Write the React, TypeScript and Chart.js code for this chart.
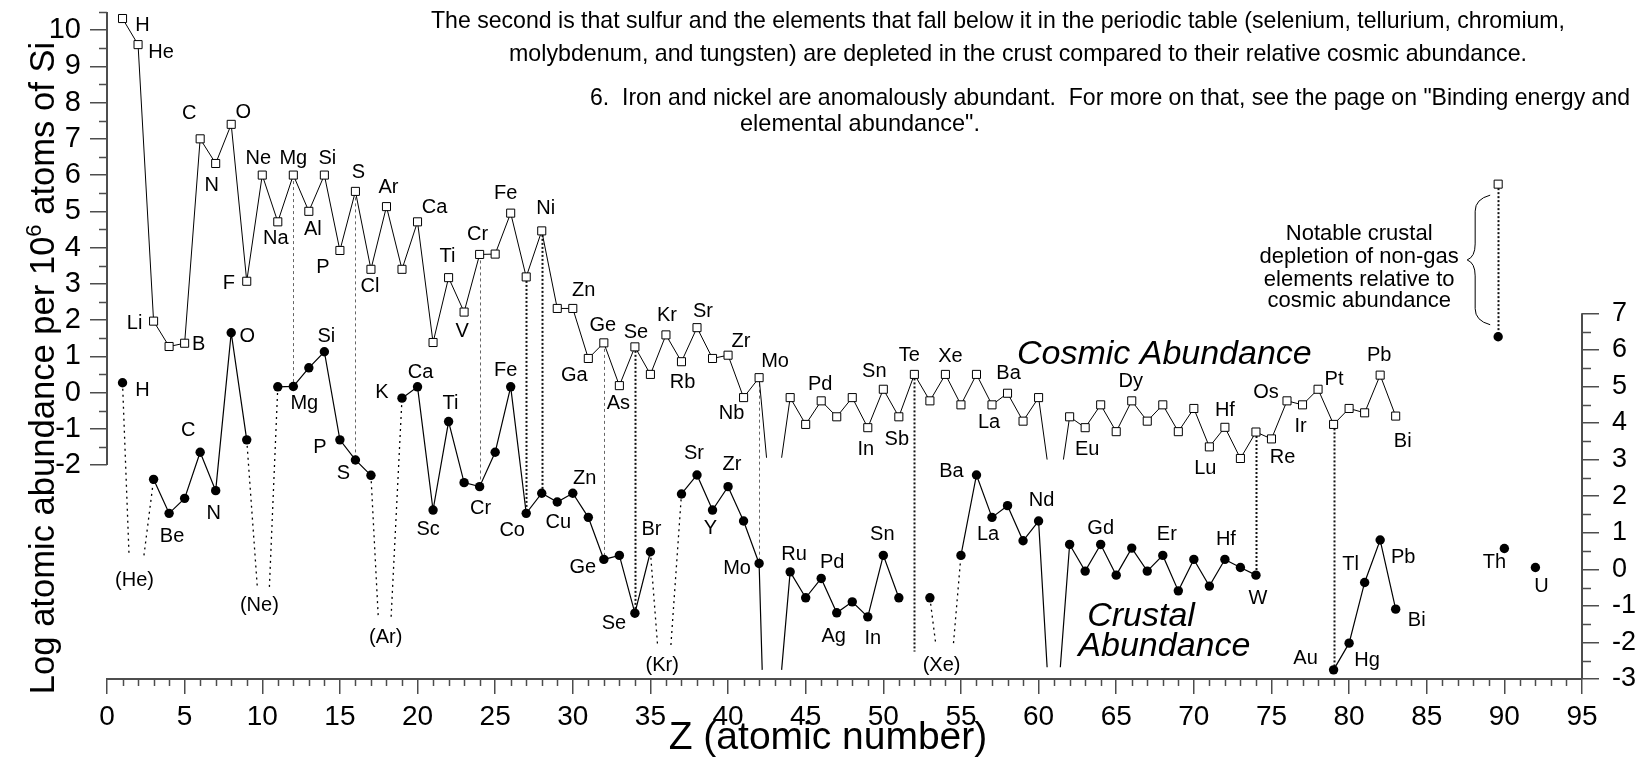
import React, { useEffect, useRef } from 'react';
import { Chart, registerables } from 'chart.js';

Chart.register(...registerables);

const FONT = '"Liberation Sans", Arial, Helvetica, sans-serif';
const AXIS = '#4d4d4d';

// ---------- data (log atomic abundance per 10^6 atoms of Si) ----------
// cosmic abundance, Z = 1..83 (null = not plotted)
const cosmic: (number | null)[] = [
  10.32, 9.6, 1.97, 1.27, 1.36, 7.0, 6.32, 7.4, 3.07, 6.0,
  4.71, 6.0, 5.0, 6.0, 3.92, 5.55, 3.4, 5.13, 3.4, 4.71,
  1.38, 3.17, 2.22, 3.81, 3.82, 4.95, 3.19, 4.46, 2.32, 2.32,
  0.94, 1.37, 0.19, 1.26, 0.5, 1.59, 0.85, 1.79, 0.94, 1.03,
  -0.14, 0.41, null, -0.14, -0.88, -0.23, -0.67, -0.14, -0.97, 0.09,
  -0.67, 0.5, -0.23, 0.5, -0.34, 0.5, -0.34, -0.02, -0.79, -0.14,
  null, -0.67, -0.97, -0.34, -1.08, -0.23, -0.79, -0.34, -1.08, -0.44,
  -1.5, -0.96, -1.82, -1.09, -1.28, -0.23, -0.34, 0.09, -0.88, -0.44,
  -0.56, 0.48, -0.65,
];

// crustal abundance, Z = 1..92 (null = not plotted)
const crust: (number | null)[] = [
  5.1, null, 2.46, 1.53, 1.94, 3.2, 2.15, 6.47, 3.54, null,
  4.99, 5.0, 5.51, 5.95, 3.54, 2.99, 2.57, null, 4.68, 4.99,
  1.62, 4.04, 2.37, 2.26, 3.2, 4.99, 1.53, 2.08, 1.84, 2.08,
  1.42, 0.27, 0.38, -1.2, 0.48, null, 2.06, 2.58, 1.62, 2.26,
  1.32, 0.16, null, -0.07, -0.78, -0.25, -1.19, -0.89, -1.3, 0.38,
  -0.78, null, -0.78, null, 0.38, 2.58, 1.42, 1.74, 0.78, 1.32,
  null, 0.68, -0.05, 0.68, -0.16, 0.58, -0.05, 0.38, -0.59, 0.27,
  -0.46, 0.27, 0.05, -0.16, null, null, null, null, -2.75, -2.02,
  -0.36, 0.8, -1.09, null, null, null, null, null, null, 0.57,
  null, 0.05,
];

// unstable Tc (43) and Pm (61): lines run down to a floor
const unstableZ = [43, 61];
const cosmicStubLeftZ = [42.48, 60.55];
const cosmicStubRightZ = [43.45, 61.6];
const cosmicStubFloor = [-1.8, -1.85];
const crustStubLeftZ = [42.2, 60.55];
const crustStubRightZ = [43.45, 61.4];
const crustStubFloor = [-2.75, -2.68];

// noble gases missing from the crust: dotted connectors
const gasZ = [2, 10, 18, 36, 54];
const gasText = ['(He)', '(Ne)', '(Ar)', '(Kr)', '(Xe)'];
const gasLeftZ = [1.42, 9.68, 17.47, 35.46, 53.37];
const gasRightZ = [2.38, 10.46, 18.3, 36.32, 54.52];
const gasFloor = [0.38, -0.48, -1.3, -2.07, -2.02];

// vertical cosmic -> crust depletion links
const linkZ = [12, 16, 24, 27, 28, 32, 34, 42, 52, 74, 79];
const linkCrustEnd = [5.0, 2.99, 2.26, 1.53, 2.08, 0.27, -1.2, 0.16, -2.25, -0.16, -2.75];
const linkHeavy = [false, false, false, true, true, false, true, false, true, true, true];

// legend-like annotation
const annotZ = 89.6;
const annotCosmic = 5.75;
const annotCrust = 6.36;
const annotText = ['Notable crustal', 'depletion of non-gas', 'elements relative to', 'cosmic abundance'];

// element labels
const cosmicLabelZ = [1, 2, 3, 5, 6, 7, 8, 9, 10, 11, 12, 13, 14, 15, 16, 17, 18, 20, 22, 23, 24, 26, 28, 30, 31, 32, 33, 34, 36, 37, 38, 40, 41, 42, 46, 49, 50, 51, 52, 54, 57, 58, 63, 66, 71, 72, 75, 76, 77, 78, 82, 83];
const cosmicLabelText = ['H', 'He', 'Li', 'B', 'C', 'N', 'O', 'F', 'Ne', 'Na', 'Mg', 'Al', 'Si', 'P', 'S', 'Cl', 'Ar', 'Ca', 'Ti', 'V', 'Cr', 'Fe', 'Ni', 'Zn', 'Ga', 'Ge', 'As', 'Se', 'Kr', 'Rb', 'Sr', 'Zr', 'Nb', 'Mo', 'Pd', 'In', 'Sn', 'Sb', 'Te', 'Xe', 'La', 'Ba', 'Eu', 'Dy', 'Lu', 'Hf', 'Re', 'Os', 'Ir', 'Pt', 'Pb', 'Bi'];
const crustLabelZ = [1, 4, 6, 7, 8, 12, 14, 15, 16, 19, 20, 21, 22, 24, 26, 27, 29, 30, 32, 34, 35, 38, 39, 40, 42, 44, 46, 47, 49, 50, 56, 57, 60, 64, 68, 72, 74, 79, 80, 81, 82, 83, 90, 92];
const crustLabelText = ['H', 'Be', 'C', 'N', 'O', 'Mg', 'Si', 'P', 'S', 'K', 'Ca', 'Sc', 'Ti', 'Cr', 'Fe', 'Co', 'Cu', 'Zn', 'Ge', 'Se', 'Br', 'Sr', 'Y', 'Zr', 'Mo', 'Ru', 'Pd', 'Ag', 'In', 'Sn', 'Ba', 'La', 'Nd', 'Gd', 'Er', 'Hf', 'W', 'Au', 'Hg', 'Tl', 'Pb', 'Bi', 'Th', 'U'];

// tick labels
const xTickValues = [0, 5, 10, 15, 20, 25, 30, 35, 40, 45, 50, 55, 60, 65, 70, 75, 80, 85, 90, 95];
const leftTickValues = [-2, -1, 0, 1, 2, 3, 4, 5, 6, 7, 8, 9, 10];
const rightTickValues = [-3, -2, -1, 0, 1, 2, 3, 4, 5, 6, 7];

const topText = [
  'The second is that sulfur and the elements that fall below it in the periodic table (selenium, tellurium, chromium,',
  'molybdenum, and tungsten) are depleted in the crust compared to their relative cosmic abundance.',
  '6.  Iron and nickel are anomalously abundant.  For more on that, see the page on "Binding energy and',
  'elemental abundance".',
];

// ---------- layout (pixel nudges, not data) ----------
const cosmicLabelNudge: [number, number][] = [
  [20, 7], [23, 8], [-19, 2], [14, 1], [-11, -25], [-4, 22], [12, -12], [-18, 2], [-4, -17], [-2, 17],
  [0, -17], [4, 18], [3, -17], [-17, 17], [3, -19], [-1, 17], [2, -19], [17, -14], [-1, -21], [-2, 19],
  [-2, -20], [-5, -20], [4, -22], [11, -18], [-14, 17], [-1, -17], [-1, 18], [1, -14], [1, -19], [1, 21],
  [6, -16], [13, -14], [-12, 16], [16, -16], [-1, -16], [-2, 22], [-9, -18], [-2, 23], [-5, -19], [5, -18],
  [-3, 18], [1, -20], [2, 22], [-1, -19], [-4, 22], [0, -17], [11, 19], [-21, -8], [-2, 22], [16, -10],
  [-1, -20], [7, 25],
];
const crustLabelNudge: [number, number][] = [
  [20, 8], [3, 23], [-12, -22], [-2, 23], [16, 4], [11, 17], [2, -15], [-20, 8], [-12, 14], [-20, -6],
  [3, -14], [-5, 19], [2, -18], [1, 22], [-5, -16], [-14, 17], [1, 20], [12, -15], [-21, 8], [-21, 10],
  [1, -22], [-3, -21], [-2, 18], [4, -22], [-22, 5], [4, -17], [11, -16], [-3, 24], [5, 22], [-1, -21],
  [-25, -3], [-4, 17], [3, -21], [0, -16], [4, -21], [1, -20], [2, 23], [-28, -11], [18, 17], [-14, -18],
  [23, 17], [21, 11], [-10, 14], [6, 19],
];
const gasLabelNudge: [number, number][] = [[-2, 25], [-4, 19], [1, 21], [-2, 20], [-3, 22]];

// ---------- build datasets ----------
const cosmicPoints = cosmic.map((v, i) => ({ x: i + 1, y: v }));
const crustPoints = crust.map((v, i) => ({ x: i + 1, y: v }));

function stubPoints(series: (number | null)[], leftZ: number[], rightZ: number[], floor: number[]) {
  const pts: { x: number; y: number | null }[] = [];
  unstableZ.forEach((z, i) => {
    pts.push({ x: z - 1, y: series[z - 2] });
    pts.push({ x: leftZ[i], y: floor[i] });
    pts.push({ x: z, y: null });
    pts.push({ x: rightZ[i], y: floor[i] });
    pts.push({ x: z + 1, y: series[z] });
    pts.push({ x: z + 1, y: null });
  });
  return pts;
}

const gasPoints: { x: number; y: number | null }[] = [];
gasZ.forEach((z, i) => {
  gasPoints.push({ x: z - 1, y: crust[z - 2] });
  gasPoints.push({ x: gasLeftZ[i], y: gasFloor[i] });
  gasPoints.push({ x: z, y: null });
  gasPoints.push({ x: gasRightZ[i], y: gasFloor[i] });
  gasPoints.push({ x: z + 1, y: crust[z] });
  gasPoints.push({ x: z + 1, y: null });
});

const overlay = {
  id: 'overlay',
  beforeDatasetsDraw(chart: any) {
    const { ctx, scales } = chart;
    const x = scales.x, yL = scales.yL, yR = scales.yR;
    ctx.save();
    linkZ.forEach((z, i) => {
      const heavy = linkHeavy[i];
      const px = Math.round(x.getPixelForValue(z)) + 0.5;
      ctx.beginPath();
      ctx.setLineDash(heavy ? [2, 2] : [3, 3]);
      ctx.lineWidth = heavy ? 2 : 1;
      ctx.strokeStyle = heavy ? '#111' : '#666';
      ctx.moveTo(px, yL.getPixelForValue(cosmic[z - 1] as number));
      ctx.lineTo(px, yR.getPixelForValue(linkCrustEnd[i]));
      ctx.stroke();
    });
    const ax = Math.round(x.getPixelForValue(annotZ)) + 0.5;
    ctx.beginPath();
    ctx.setLineDash([2, 2]);
    ctx.lineWidth = 2;
    ctx.strokeStyle = '#111';
    ctx.moveTo(ax, yL.getPixelForValue(annotCosmic));
    ctx.lineTo(ax, yR.getPixelForValue(annotCrust));
    ctx.stroke();
    ctx.restore();
  },
  afterDatasetsDraw(chart: any) {
    const { ctx, scales } = chart;
    const x = scales.x, yL = scales.yL, yR = scales.yR;
    ctx.save();
    ctx.fillStyle = '#000';
    ctx.textAlign = 'center';
    ctx.textBaseline = 'middle';
    ctx.font = `20px ${FONT}`;
    cosmicLabelZ.forEach((z, i) => {
      const [dx, dy] = cosmicLabelNudge[i];
      ctx.fillText(cosmicLabelText[i], x.getPixelForValue(z) + dx, yL.getPixelForValue(cosmic[z - 1] as number) + dy);
    });
    crustLabelZ.forEach((z, i) => {
      const [dx, dy] = crustLabelNudge[i];
      ctx.fillText(crustLabelText[i], x.getPixelForValue(z) + dx, yR.getPixelForValue(crust[z - 1] as number) + dy);
    });
    gasZ.forEach((z, i) => {
      const [dx, dy] = gasLabelNudge[i];
      const cx = (x.getPixelForValue(gasLeftZ[i]) + x.getPixelForValue(gasRightZ[i])) / 2;
      ctx.fillText(gasText[i], cx + dx, yR.getPixelForValue(gasFloor[i]) + dy);
    });

    // series titles
    ctx.font = `italic 34px ${FONT}`;
    ctx.textBaseline = 'alphabetic';
    ctx.fillText('Cosmic Abundance', x.getPixelForValue(68.1), yL.getPixelForValue(0.8));
    ctx.fillText('Crustal', x.getPixelForValue(66.6), yR.getPixelForValue(-1.54));
    ctx.fillText('Abundance', x.getPixelForValue(68.1), yR.getPixelForValue(-2.37));

    // annotation brace + text
    const ax = x.getPixelForValue(annotZ);
    const yTop = yL.getPixelForValue(annotCosmic) + 11;
    const yBot = yR.getPixelForValue(annotCrust) - 12;
    const yMid = (yTop + yBot) / 2;
    const xe = ax - 8;
    const xm = ax - 23;
    const xc = ax - 31;
    const r = 16;
    ctx.beginPath();
    ctx.setLineDash([]);
    ctx.lineWidth = 1;
    ctx.strokeStyle = '#000';
    ctx.moveTo(xe, yTop);
    ctx.quadraticCurveTo(xm, yTop + 4, xm, yTop + r);
    ctx.lineTo(xm, yMid - r);
    ctx.quadraticCurveTo(xm, yMid - 3, xc, yMid);
    ctx.quadraticCurveTo(xm, yMid + 3, xm, yMid + r);
    ctx.lineTo(xm, yBot - r);
    ctx.quadraticCurveTo(xm, yBot - 4, xe, yBot);
    ctx.stroke();
    ctx.font = `22px ${FONT}`;
    ctx.textAlign = 'center';
    const base = [-20, 3, 26, 47];
    annotText.forEach((t, i) => ctx.fillText(t, ax - 139, yMid + base[i]));
    ctx.restore();
  },
  afterDraw(chart: any) {
    const { ctx, scales, chartArea } = chart;
    const x = scales.x, yL = scales.yL, yR = scales.yR;
    ctx.save();
    ctx.strokeStyle = AXIS;
    // partial vertical axes
    const lx = Math.round(chartArea.left);
    const rx = Math.round(chartArea.right);
    ctx.beginPath();
    ctx.lineWidth = 2;
    ctx.moveTo(lx, yL.getPixelForValue(-2));
    ctx.lineTo(lx, yL.getPixelForValue(10.5));
    ctx.moveTo(rx, yR.getPixelForValue(-3));
    ctx.lineTo(rx, yR.getPixelForValue(7));
    ctx.stroke();
    // minor ticks
    ctx.lineWidth = 1.5;
    ctx.beginPath();
    for (let z = 1; z < 95; z++) {
      if (z % 5 === 0) continue;
      const px = Math.round(x.getPixelForValue(z)) + 0.5;
      ctx.moveTo(px, chartArea.bottom);
      ctx.lineTo(px, chartArea.bottom + 7);
    }
    for (let v = -1.5; v <= 10.5; v += 1) {
      const py = Math.round(yL.getPixelForValue(v)) + 0.5;
      ctx.moveTo(lx, py);
      ctx.lineTo(lx - 8, py);
    }
    for (let v = -2.5; v <= 6.5; v += 1) {
      const py = Math.round(yR.getPixelForValue(v)) + 0.5;
      ctx.moveTo(rx, py);
      ctx.lineTo(rx + 9, py);
    }
    ctx.stroke();

    ctx.fillStyle = '#000';
    // x axis title
    ctx.font = `39px ${FONT}`;
    ctx.textAlign = 'center';
    ctx.textBaseline = 'middle';
    ctx.fillText('Z (atomic number)', 828, 738);

    // y axis title with superscript
    ctx.translate(42, 368);
    ctx.rotate(-Math.PI / 2);
    const big = `34.6px ${FONT}`;
    const small = `22px ${FONT}`;
    const p1 = 'Log atomic abundance per 10';
    const p2 = '6';
    const p3 = ' atoms of Si';
    ctx.font = big;
    const w1 = ctx.measureText(p1).width;
    const w3 = ctx.measureText(p3).width;
    ctx.font = small;
    const w2 = ctx.measureText(p2).width;
    const total = w1 + w2 + w3;
    ctx.textBaseline = 'alphabetic';
    ctx.textAlign = 'left';
    let cx = -total / 2;
    ctx.font = big;
    ctx.fillText(p1, cx, 12);
    cx += w1;
    ctx.font = small;
    ctx.fillText(p2, cx, -1);
    cx += w2;
    ctx.font = big;
    ctx.fillText(p3, cx, 12);
    ctx.setTransform(1, 0, 0, 1, 0, 0);

    // explanatory text at top
    ctx.font = `24px ${FONT}`;
    ctx.textAlign = 'left';
    ctx.textBaseline = 'alphabetic';
    const tx = [431, 509, 590, 740];
    const ty = [28, 61, 105, 131];
    const tw = [1134, 1018, 1040, 240];
    topText.forEach((t, i) => ctx.fillText(t, tx[i], ty[i], tw[i]));
    ctx.restore();
  },
};

const App = () => {
  const ref = useRef<HTMLCanvasElement>(null);
  useEffect(() => {
    const prev = document.body.style.margin;
    document.body.style.margin = '0';
    const canvas = ref.current as HTMLCanvasElement;
    const chart = new Chart(canvas, {
      type: 'line',
      data: {
        datasets: [
          {
            data: cosmicPoints as any, yAxisID: 'yL', borderColor: '#000', borderWidth: 1,
            pointStyle: 'rect', pointRadius: 5.7, pointBackgroundColor: '#fff', pointBorderColor: '#000',
            pointBorderWidth: 1, spanGaps: false, tension: 0,
          },
          {
            data: crustPoints as any, yAxisID: 'yR', borderColor: '#000', borderWidth: 1.2,
            pointStyle: 'circle', pointRadius: 4.7, pointBackgroundColor: '#000', pointBorderColor: '#000',
            pointBorderWidth: 0, spanGaps: false, tension: 0,
          },
          {
            data: [{ x: annotZ, y: annotCosmic }] as any, yAxisID: 'yL', showLine: false,
            pointStyle: 'rect', pointRadius: 5.7, pointBackgroundColor: '#fff', pointBorderColor: '#000', pointBorderWidth: 1,
          },
          {
            data: [{ x: annotZ, y: annotCrust }] as any, yAxisID: 'yR', showLine: false,
            pointStyle: 'circle', pointRadius: 4.7, pointBackgroundColor: '#000', pointBorderWidth: 0,
          },
          {
            data: stubPoints(cosmic, cosmicStubLeftZ, cosmicStubRightZ, cosmicStubFloor) as any, yAxisID: 'yL',
            borderColor: '#000', borderWidth: 1, pointRadius: 0, spanGaps: false,
          },
          {
            data: stubPoints(crust, crustStubLeftZ, crustStubRightZ, crustStubFloor) as any, yAxisID: 'yR',
            borderColor: '#000', borderWidth: 1.2, pointRadius: 0, spanGaps: false,
          },
          {
            data: gasPoints as any, yAxisID: 'yR', borderColor: '#000', borderWidth: 1.3,
            borderDash: [2, 4], pointRadius: 0, spanGaps: false,
          },
        ],
      },
      options: {
        responsive: false,
        animation: false,
        events: [],
        layout: { padding: { left: 0, right: 0, top: 12, bottom: 0 } },
        plugins: { legend: { display: false }, tooltip: { enabled: false } },
        scales: {
          x: {
            type: 'linear', min: 0, max: 95, position: 'bottom',
            afterBuildTicks: (s: any) => { s.ticks = xTickValues.map((v) => ({ value: v })); },
            afterFit: (s: any) => { s.height = 103; s.paddingLeft = 0; s.paddingRight = 0; },
            ticks: { autoSkip: false, maxRotation: 0, padding: 6, color: '#000', font: { family: FONT, size: 28 } },
            grid: { drawOnChartArea: false, drawTicks: true, tickLength: 15, color: AXIS, lineWidth: 1.5 },
            border: { display: true, color: AXIS, width: 2 },
            title: { display: false },
          },
          yL: {
            type: 'linear', position: 'left', min: -7.905, max: 10.5,
            afterBuildTicks: (s: any) => { s.ticks = leftTickValues.map((v) => ({ value: v })); },
            afterFit: (s: any) => { s.width = 107; s.paddingTop = 0; s.paddingBottom = 0; },
            ticks: { padding: 9, color: '#000', font: { family: FONT, size: 29 } },
            grid: { drawOnChartArea: false, drawTicks: true, tickLength: 17, color: AXIS, lineWidth: 1.5 },
            border: { display: false },
          },
          yR: {
            type: 'linear', position: 'right', min: -3, max: 15.24,
            afterBuildTicks: (s: any) => { s.ticks = rightTickValues.map((v) => ({ value: v })); },
            afterFit: (s: any) => { s.width = 56; s.paddingTop = 0; s.paddingBottom = 0; },
            ticks: { padding: 13, color: '#000', font: { family: FONT, size: 27 } },
            grid: { drawOnChartArea: false, drawTicks: true, tickLength: 17, color: AXIS, lineWidth: 1.5 },
            border: { display: false },
          },
        },
      } as any,
      plugins: [overlay],
    });
    return () => {
      chart.destroy();
      document.body.style.margin = prev;
    };
  }, []);
  return (
    <div style={{ position: 'absolute', left: 0, top: 0, width: 1638, height: 782, background: '#fff' }}>
      <canvas ref={ref} width={1638} height={782} style={{ display: 'block' }} />
    </div>
  );
};

export default App;
